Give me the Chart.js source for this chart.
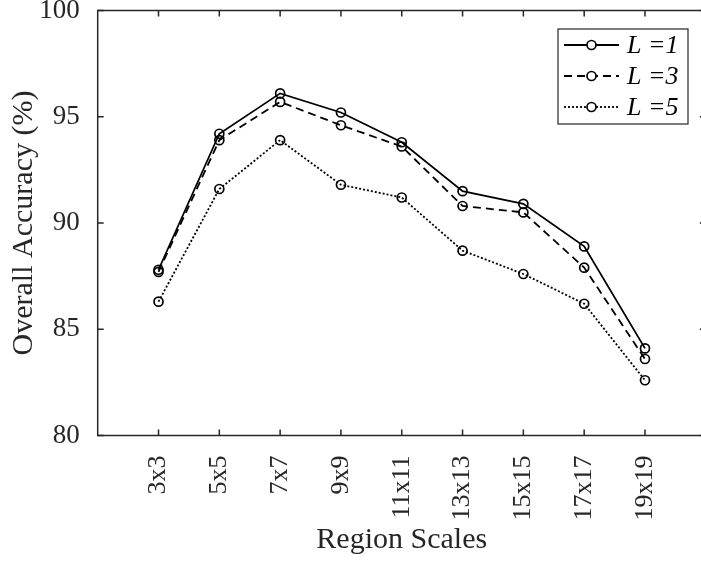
<!DOCTYPE html>
<html>
<head>
<meta charset="utf-8">
<script src="https://cdn.jsdelivr.net/npm/chart.js@4.4.1/dist/chart.umd.min.js"></script>
<style>
    html, body { margin: 0; padding: 0; background: #fff; overflow: hidden; }
    #wrap { width: 712px; height: 561px; }
</style>
</head>
<body>
<div id="wrap"><canvas id="chart" width="712" height="561"></canvas></div>
<script>
const regionScales = ['3x3', '5x5', '7x7', '9x9', '11x11', '13x13', '15x15', '17x17', '19x19'];
const accL1 = [87.8, 94.2, 96.1, 95.2, 93.8, 91.5, 90.9, 88.9, 84.1];
const accL3 = [87.7, 93.9, 95.7, 94.6, 93.6, 90.8, 90.5, 87.9, 83.6];
const accL5 = [86.3, 91.6, 93.9, 91.8, 91.2, 88.7, 87.6, 86.2, 82.6];
const yTicks = [80, 85, 90, 95, 100];

const ink = '#262626';
const serif = 'Liberation Serif';

const toPoints = arr => arr.map((v, i) => ({ x: i + 1, y: v }));

const lineStyle = (label, values, dash) => ({
    label: label,
    data: toPoints(values),
    borderColor: '#000',
    borderWidth: 1.8,
    borderDash: dash,
    pointRadius: 4.5,
    pointBorderWidth: 1.7,
    pointBorderColor: '#000',
    pointBackgroundColor: 'rgba(0,0,0,0)',
    tension: 0,
});

// box, inward ticks on all four sides, and the legend inside the axes
const frame = {
    id: 'frame',
    afterDraw(chart) {
        const { ctx, chartArea: a, scales: { x, y } } = chart;
        const t = 6;
        ctx.save();
        ctx.strokeStyle = ink;
        ctx.lineWidth = 1.5;
        ctx.setLineDash([]);
        ctx.strokeRect(a.left, a.top, a.right - a.left, a.bottom - a.top);
        ctx.beginPath();
        x.ticks.forEach(tk => {
            const px = x.getPixelForValue(tk.value);
            ctx.moveTo(px, a.bottom); ctx.lineTo(px, a.bottom - t);
            ctx.moveTo(px, a.top); ctx.lineTo(px, a.top + t);
        });
        y.ticks.forEach(tk => {
            const py = y.getPixelForValue(tk.value);
            ctx.moveTo(a.left, py); ctx.lineTo(a.left + t, py);
            ctx.moveTo(a.right, py); ctx.lineTo(a.right - t, py);
        });
        ctx.stroke();

        // legend
        const bx = 558, by = 29, bw = 130, bh = 95;
        ctx.fillStyle = '#fff';
        ctx.fillRect(bx, by, bw, bh);
        ctx.strokeStyle = ink;
        ctx.lineWidth = 1.2;
        ctx.strokeRect(bx, by, bw, bh);
        ctx.font = 'italic 26px ' + serif;
        ctx.textBaseline = 'middle';
        chart.data.datasets.forEach((ds, i) => {
            const ry = 45 + i * 31;
            ctx.strokeStyle = '#000';
            ctx.lineWidth = ds.borderWidth;
            ctx.setLineDash(ds.borderDash || []);
            ctx.beginPath();
            ctx.moveTo(564, ry); ctx.lineTo(619, ry);
            ctx.stroke();
            ctx.setLineDash([]);
            ctx.lineWidth = ds.pointBorderWidth;
            ctx.beginPath();
            ctx.arc(591.5, ry, ds.pointRadius, 0, Math.PI * 2);
            ctx.fillStyle = '#fff';
            ctx.fill();
            ctx.stroke();
            ctx.fillStyle = '#000';
            ctx.fillText(ds.label, 627, ry + 1);
        });
        ctx.restore();
    }
};

const data = {
    datasets: [
        lineStyle('L =1', accL1, []),
        lineStyle('L =3', accL3, [8, 5]),
        lineStyle('L =5', accL5, [2, 2]),
    ]
};

const options = {
    responsive: false,
    animation: false,
    devicePixelRatio: 1,
    layout: { padding: { top: 10.5, right: 5.5, left: 0, bottom: 0 } },
    plugins: { legend: { display: false }, tooltip: { enabled: false } },
    scales: {
        x: {
            type: 'linear',
            min: 0,
            max: 10,
            afterBuildTicks: s => { s.ticks = regionScales.map((_, i) => ({ value: i + 1 })); },
            afterFit: s => { s.height = 125.5; s.paddingLeft = 0; s.paddingRight = 0; },
            grid: { display: false },
            border: { display: false },
            ticks: {
                autoSkip: false,
                minRotation: 90,
                maxRotation: 90,
                padding: 12,
                color: ink,
                font: { family: serif, size: 26 },
                callback: v => regionScales[v - 1],
            },
            title: {
                display: true,
                text: 'Region Scales',
                color: ink,
                font: { family: serif, size: 30 },
                padding: { top: 0, bottom: 3 },
            },
        },
        y: {
            min: 80,
            max: 100,
            afterBuildTicks: s => { s.ticks = yTicks.map(v => ({ value: v })); },
            afterFit: s => { s.width = 97.7; s.paddingTop = 0; s.paddingBottom = 0; },
            grid: { display: false },
            border: { display: false },
            ticks: {
                padding: 10,
                color: ink,
                font: { family: serif, size: 27 },
            },
            title: {
                display: true,
                text: 'Overall Accuracy (%)',
                color: ink,
                font: { family: serif, size: 30 },
                padding: { top: 6, bottom: 0 },
            },
        },
    },
};

new Chart(document.getElementById('chart'), { type: 'line', data: data, options: options, plugins: [frame] });
</script>
</body>
</html>
